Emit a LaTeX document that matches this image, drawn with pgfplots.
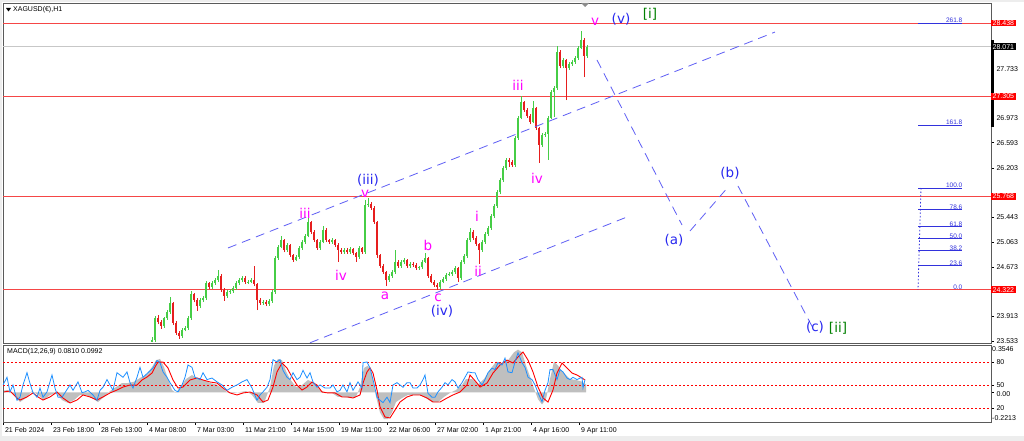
\documentclass[border=0pt]{standalone}
\usepackage{pgfplots}
\pgfplotsset{compat=1.18}
\usepackage{pgfplotstable}
\usepackage{fontspec}
\setmainfont{Liberation Sans}
\newfontfamily\wavefont{DejaVu Sans}
\newcommand\tickfont{\fontsize{7}{8}\selectfont}
\newcommand\fibfont{\fontsize{6.5}{7}\selectfont}
\newcommand\wfont{\wavefont\fontsize{13.5}{14}\selectfont}

\definecolor{lvl}{RGB}{245,70,70}
\definecolor{wave}{RGB}{40,40,240}
\definecolor{proj}{RGB}{95,95,245}
\definecolor{mag}{RGB}{255,0,255}
\definecolor{grn}{RGB}{0,128,0}
\definecolor{fib}{RGB}{50,50,220}
\definecolor{frame}{RGB}{90,90,90}
\definecolor{osc}{RGB}{30,144,255}

% hourly candles, one every 3 px starting at x=152
\pgfplotstableread{
o h l c
23.52 23.59 23.51 23.548
23.548 23.92 23.52 23.888
23.888 23.93 23.79 23.826
23.826 23.85 23.72 23.764
23.764 23.91 23.74 23.888
23.888 24.01 23.86 23.980
23.980 24.21 23.95 24.119
24.119 24.14 23.78 23.811
23.811 23.84 23.63 23.656
23.656 23.68 23.564 23.610
23.610 23.73 23.58 23.703
23.703 23.77 23.68 23.734
23.734 23.92 23.71 23.888
23.888 24.304 23.86 24.258
24.258 24.28 24.13 24.165
24.165 24.19 23.996 24.073
24.073 24.19 24.04 24.165
24.165 24.23 24.14 24.196
24.196 24.46 24.17 24.428
24.428 24.45 24.33 24.366
24.366 24.46 24.34 24.428
24.428 24.50 24.40 24.474
24.474 24.628 24.45 24.536
24.536 24.56 24.29 24.320
24.320 24.35 24.150 24.227
24.227 24.32 24.20 24.289
24.289 24.33 24.26 24.30
24.30 24.38 24.27 24.351
24.351 24.46 24.32 24.428
24.428 24.50 24.40 24.474
24.474 24.54 24.44 24.505
24.505 24.53 24.41 24.444
24.444 24.48 24.41 24.45
24.45 24.50 24.42 24.474
24.474 24.690 24.38 24.412
24.412 24.43 24.011 24.165
24.165 24.19 24.09 24.119
24.119 24.17 24.09 24.135
24.135 24.16 24.07 24.104
24.104 24.18 24.08 24.150
24.150 24.32 24.12 24.289
24.289 24.84 24.26 24.813
24.813 25.01 24.79 24.983
24.983 25.153 24.96 25.091
25.091 25.11 24.90 24.937
24.937 25.04 24.91 25.014
25.014 25.03 24.83 24.860
24.860 24.88 24.752 24.782
24.782 24.86 24.76 24.829
24.829 25.00 24.80 24.968
24.968 25.09 24.94 25.060
25.060 25.18 25.03 25.153
25.153 25.430 25.13 25.369
25.369 25.39 25.18 25.214
25.214 25.24 25.06 25.091
25.091 25.11 24.94 24.968
24.968 25.09 24.94 25.060
25.060 25.307 25.04 25.245
25.245 25.27 25.06 25.091
25.091 25.11 25.03 25.060
25.060 25.12 25.03 25.091
25.091 25.11 24.98 25.014
25.014 25.04 24.752 24.937
24.937 24.96 24.88 24.906
24.906 24.97 24.88 24.937
24.937 24.96 24.88 24.906
24.906 24.98 24.88 24.952
24.952 24.97 24.86 24.890
24.890 24.91 24.752 24.829
24.829 25.00 24.80 24.968
24.968 24.99 24.88 24.906
24.906 25.708 24.88 25.631
25.631 25.739 25.60 25.646
25.646 25.67 25.55 25.585
25.585 25.61 25.34 25.369
25.369 25.39 24.813 24.860
24.860 24.88 24.66 24.690
24.690 24.72 24.57 24.597
24.597 24.62 24.381 24.474
24.474 24.56 24.45 24.536
24.536 24.63 24.51 24.597
24.597 24.937 24.57 24.752
24.752 24.78 24.66 24.690
24.690 24.78 24.66 24.752
24.752 24.81 24.72 24.782
24.782 24.80 24.66 24.690
24.690 24.75 24.66 24.721
24.721 24.75 24.68 24.71
24.71 24.73 24.63 24.659
24.659 24.69 24.63 24.67
24.67 24.78 24.64 24.752
24.752 24.890 24.73 24.813
24.813 24.83 24.51 24.536
24.536 24.56 24.42 24.444
24.444 24.47 24.37 24.397
24.397 24.42 24.320 24.366
24.366 24.47 24.34 24.444
24.444 24.52 24.42 24.490
24.490 24.58 24.46 24.551
24.551 24.60 24.53 24.567
24.567 24.63 24.54 24.597
24.597 24.69 24.57 24.659
24.659 24.68 24.444 24.505
24.505 24.78 24.48 24.752
24.752 24.87 24.72 24.844
24.844 25.12 24.82 25.091
25.091 25.276 25.06 25.214
25.214 25.24 25.09 25.122
25.122 25.15 25.00 25.029
25.029 25.05 24.721 24.937
24.937 25.09 24.91 25.060
25.060 25.21 25.03 25.184
25.184 25.31 25.15 25.276
25.276 25.49 25.25 25.461
25.461 25.65 25.43 25.615
25.615 25.86 25.59 25.831
25.831 26.05 25.80 26.016
26.016 26.23 25.99 26.202
26.202 26.36 26.17 26.325
26.325 26.35 26.217 26.294
26.294 26.32 26.22 26.248
26.248 26.69 26.22 26.664
26.664 27.00 26.64 26.973
26.973 27.312 26.95 27.220
27.220 27.24 27.07 27.096
27.096 27.12 26.98 27.004
27.004 27.03 26.88 26.911
26.911 27.235 26.89 27.127
27.127 27.15 26.79 26.819
26.819 26.84 26.279 26.556
26.556 26.74 26.53 26.711
26.711 26.76 26.68 26.726
26.726 27.00 26.325 26.973
26.973 27.40 26.95 27.374
27.374 27.47 26.988 27.436
27.436 28.083 27.41 27.991
27.991 28.02 27.74 27.775
27.775 27.90 27.74 27.867
27.867 27.89 27.250 27.744
27.744 27.84 27.72 27.806
27.806 27.87 27.78 27.837
27.837 27.93 27.81 27.898
27.898 28.08 27.87 28.053
28.053 28.315 28.03 28.176
28.176 28.20 27.605 27.929
27.929 28.10 27.90 28.068
}\candles

% MACD main line (histogram)
\pgfplotstableread{
x m
0 0.010
8 0.018
14 -0.019
20 -0.072
26 -0.042
32 0.010
38 -0.019
44 -0.057
50 -0.019
56 -0.004
62 -0.057
68 -0.079
74 -0.057
80 -0.019
86 -0.019
92 -0.042
98 -0.072
104 -0.034
110 0.010
116 0.040
122 0.070
128 0.070
134 0.080
140 0.108
146 0.130
152 0.190
156 0.240
160 0.250
164 0.190
168 0.100
172 0.018
176 -0.004
180 0.040
186 0.100
192 0.130
198 0.100
204 0.093
210 0.070
216 0.060
222 0.033
228 -0.004
234 -0.004
240 0.003
246 0.010
252 -0.019
258 -0.079
264 -0.079
270 0.040
274 0.200
278 0.250
282 0.240
286 0.160
290 0.100
296 0.040
302 0.055
308 0.093
314 0.070
320 0.018
326 -0.004
332 -0.004
338 -0.034
344 -0.034
350 -0.042
356 -0.034
360 0.040
364 0.183
368 0.200
372 0.130
376 -0.030
380 -0.150
384 -0.200
388 -0.200
392 -0.150
396 -0.072
402 -0.042
408 -0.019
414 -0.019
420 -0.019
426 -0.042
432 -0.072
438 -0.072
444 -0.034
450 -0.004
456 0.018
462 0.055
466 0.100
472 0.100
478 0.060
484 0.100
490 0.170
496 0.230
502 0.220
508 0.240
514 0.300
518 0.320
522 0.300
526 0.200
530 0.120
534 0.030
538 -0.050
542 -0.090
546 -0.050
550 0.100
554 0.230
558 0.200
562 0.160
566 0.130
570 0.100
576 0.093
582 0.080
586 0.060
}\macdmain

% MACD signal line
\pgfplotstableread{
x s
3 0.003
10 0.010
17 -0.042
20 -0.057
27 -0.034
33 -0.004
38 -0.034
43 -0.057
50 -0.034
57 0.003
63 -0.042
70 -0.079
77 -0.057
83 -0.019
90 -0.034
97 -0.057
103 -0.034
110 -0.004
117 0.018
123 0.040
130 0.055
137 0.055
142 0.093
147 0.115
152 0.145
155 0.190
158 0.227
163 0.227
168 0.183
173 0.093
178 0.033
183 0.040
190 0.093
197 0.108
203 0.093
210 0.078
217 0.070
223 0.033
230 -0.004
237 -0.019
243 -0.004
250 0.003
257 -0.019
263 -0.072
268 -0.057
273 0.040
277 0.153
282 0.220
287 0.183
292 0.115
297 0.055
302 0.018
307 0.040
312 0.078
317 0.055
322 0.003
328 -0.004
335 -0.004
342 -0.034
348 -0.034
353 -0.042
360 -0.019
363 0.070
367 0.153
370 0.183
373 0.145
377 0.018
380 -0.109
385 -0.184
390 -0.191
395 -0.132
400 -0.072
407 -0.034
413 -0.019
420 -0.019
427 -0.042
433 -0.072
440 -0.072
447 -0.042
453 -0.019
460 0.003
467 0.055
470 0.130
477 0.070
480 0.040
487 0.070
493 0.145
500 0.205
507 0.242
513 0.220
518 0.265
523 0.302
528 0.242
533 0.153
538 0.040
543 -0.042
548 -0.072
553 0.018
557 0.145
562 0.220
567 0.183
572 0.145
577 0.130
582 0.108
585 0.093
}\macdsig

% blue oscillator, 0-100 scale
\pgfplotstableread{
x v
3 50
7 60
10 41
13 50
17 30
20 34
23 50
27 66
30 52
33 40
37 34
40 46
43 34
47 41
52 63
55 46
58 34
62 34
65 40
70 50
73 43
78 54
82 40
85 41
88 43
93 37
97 30
100 43
103 47
107 57
110 50
113 43
117 66
120 63
123 60
127 67
130 53
133 46
137 60
140 73
143 60
148 66
153 72
157 82
160 79
163 67
167 60
170 53
175 43
178 41
182 50
185 60
188 76
192 73
195 60
200 57
203 66
207 57
212 59
217 54
222 50
227 43
232 47
237 50
242 54
247 57
252 46
257 30
260 37
263 41
267 47
270 57
273 83
277 80
280 83
283 69
287 60
290 57
293 66
297 57
300 60
303 69
307 59
310 66
313 54
317 47
320 50
325 46
330 46
333 50
337 41
340 43
343 50
347 41
350 53
353 43
358 54
362 46
363 79
367 80
370 72
373 57
377 34
380 30
383 27
387 34
390 27
393 50
397 53
400 50
403 47
407 53
410 53
413 46
417 46
420 50
423 57
425 63
428 39
432 34
435 34
438 41
442 47
445 53
448 50
452 57
455 54
458 46
462 53
465 60
468 67
472 66
475 66
478 57
482 50
485 57
488 66
492 72
495 70
498 79
502 76
505 85
508 67
512 66
515 80
518 92
522 79
525 73
528 60
532 57
535 50
538 40
542 28
545 43
548 53
550 70
553 70
557 57
560 70
563 67
567 59
570 57
573 60
577 57
580 59
582 60
583 46
585 57
}\oscdata

\begin{document}
\begin{tikzpicture}[x=1pt,y=1pt]
% window background
\fill[black!7] (0,0) rectangle (1024,441);
\fill[white] (2,5) rectangle (1024,439);

% ---------------- price panel ----------------
\begin{axis}[
  at={(3pt,98pt)}, anchor=south west, scale only axis,
  width=988pt, height=340pt,
  xmin=3, xmax=991, ymin=23.502, ymax=28.747,
  clip mode=individual,
  axis line style={frame, line width=0.8pt},
  xtick=\empty,
  ytick={23.533,23.913,24.673,25.063,25.443,26.203,26.593,26.973,27.733},
  ytick pos=right, yticklabel pos=right,
  tick align=outside, major tick length=3pt,
  tick style={black, line width=0.5pt},
  yticklabel style={font=\tickfont, xshift=-1pt},
  /pgf/number format/fixed, /pgf/number format/fixed zerofill,
  /pgf/number format/precision=3, /pgf/number format/assume math mode=true,
  colormap={rg}{rgb255=(230,30,30) rgb255=(70,205,70)},
  point meta min=0, point meta max=1,
]
% horizontal levels
\addplot[lvl, line width=1pt] coordinates {(3,28.438) (991,28.438)};
\addplot[lvl, line width=1pt] coordinates {(3,27.305) (991,27.305)};
\addplot[lvl, line width=1pt] coordinates {(3,25.768) (991,25.768)};
\addplot[lvl, line width=1pt] coordinates {(3,24.322) (991,24.322)};
\addplot[black!22, line width=0.8pt] coordinates {(3,28.071) (991,28.071)};

% candles: wicks then bodies
\addplot[quiver={u=0, v=\thisrow{h}-\thisrow{l}, colored}, line width=0.9pt,
  point meta={\thisrow{c}>\thisrow{o}}]
  table[x expr=152+3*\coordindex, y=l] {\candles};
\addplot[quiver={u=0, v=\thisrow{c}-\thisrow{o}, colored}, line width=2.3pt,
  point meta={\thisrow{c}>\thisrow{o}}]
  table[x expr=152+3*\coordindex, y=o] {\candles};

% channel and projected path
\addplot[proj, line width=0.8pt, dash pattern=on 9pt off 6pt] coordinates {(228,24.968) (775,28.299)};
\addplot[proj, line width=0.8pt, dash pattern=on 9pt off 6pt] coordinates {(310,23.505) (628,25.452)};
\addplot[proj, line width=0.8pt, dash pattern=on 9pt off 6pt] coordinates {(597,27.868) (682,25.322)};
\addplot[proj, line width=0.8pt, dash pattern=on 9pt off 6pt] coordinates {(690,25.230) (729,25.924)};
\addplot[proj, line width=0.8pt, dash pattern=on 9pt off 6pt] coordinates {(738,25.924) (815,23.672)};

% fibonacci levels
\addplot[fib, line width=0.9pt] coordinates {(918,28.435) (962,28.435)};
\addplot[fib, line width=0.9pt] coordinates {(918,26.864) (962,26.864)};
\addplot[fib, line width=0.9pt] coordinates {(918,25.893) (962,25.893)};
\addplot[fib, line width=0.9pt] coordinates {(918,25.557) (962,25.557)};
\addplot[fib, line width=0.9pt] coordinates {(918,25.293) (962,25.293)};
\addplot[fib, line width=0.9pt] coordinates {(918,25.108) (962,25.108)};
\addplot[fib, line width=0.9pt] coordinates {(918,24.922) (962,24.922)};
\addplot[fib, line width=0.9pt] coordinates {(918,24.693) (962,24.693)};
\addplot[fib, line width=0.8pt, dash pattern=on 1.5pt off 2pt] coordinates {(921,25.893) (918,24.322)};
\node[fib, anchor=south east, inner sep=0.5pt, font=\fibfont] at (axis cs:963,28.435) {261.8};
\node[fib, anchor=south east, inner sep=0.5pt, font=\fibfont] at (axis cs:963,26.864) {161.8};
\node[fib, anchor=south east, inner sep=0.5pt, font=\fibfont] at (axis cs:963,25.893) {100.0};
\node[fib, anchor=south east, inner sep=0.5pt, font=\fibfont] at (axis cs:963,25.557) {78.6};
\node[fib, anchor=south east, inner sep=0.5pt, font=\fibfont] at (axis cs:963,25.293) {61.8};
\node[fib, anchor=south east, inner sep=0.5pt, font=\fibfont] at (axis cs:963,25.108) {50.0};
\node[fib, anchor=south east, inner sep=0.5pt, font=\fibfont] at (axis cs:963,24.922) {38.2};
\node[fib, anchor=south east, inner sep=0.5pt, font=\fibfont] at (axis cs:963,24.693) {23.6};
\node[fib, anchor=south east, inner sep=0.5pt, font=\fibfont] at (axis cs:963,24.322) {0.0};

% wave labels
\node[mag, font=\wfont] at (axis cs:305,25.508) {iii};
\node[wave, font=\wfont] at (axis cs:368,26.020) {(iii)};
\node[mag, font=\wfont, inner sep=0pt] at (axis cs:365,25.810) {v};
\node[mag, font=\wfont] at (axis cs:341,24.551) {iv};
\node[mag, font=\wfont] at (axis cs:385,24.227) {a};
\node[mag, font=\wfont] at (axis cs:428,25.014) {b};
\node[mag, font=\wfont] at (axis cs:438,24.196) {c};
\node[wave, font=\wfont] at (axis cs:442,23.996) {(iv)};
\node[mag, font=\wfont] at (axis cs:477,25.461) {i};
\node[mag, font=\wfont] at (axis cs:478,24.613) {ii};
\node[mag, font=\wfont] at (axis cs:518,27.482) {iii};
\node[mag, font=\wfont] at (axis cs:537,26.047) {iv};
\node[mag, font=\wfont] at (axis cs:595,28.454) {v};
\node[wave, font=\wfont] at (axis cs:621,28.500) {(v)};
\node[grn, font=\wfont] at (axis cs:650,28.577) {[i]};
\node[wave, font=\wfont] at (axis cs:674,25.091) {(a)};
\node[wave, font=\wfont] at (axis cs:730,26.124) {(b)};
\node[wave, font=\wfont] at (axis cs:815,23.749) {(c)};
\node[grn, font=\wfont] at (axis cs:838,23.734) {[ii]};

% price tags on the scale
\draw[black, line width=2.5pt] (axis cs:992.5,28.176) -- (axis cs:992.5,26.834);
\node[fill=red, text=white, anchor=west, inner xsep=1.5pt, inner ysep=1pt, font=\tickfont] at (axis cs:991,28.438) {28.438};
\node[fill=red, text=white, anchor=west, inner xsep=1.5pt, inner ysep=1pt, font=\tickfont] at (axis cs:991,27.305) {27.305};
\node[fill=red, text=white, anchor=west, inner xsep=1.5pt, inner ysep=1pt, font=\tickfont] at (axis cs:991,25.768) {25.768};
\node[fill=red, text=white, anchor=west, inner xsep=1.5pt, inner ysep=1pt, font=\tickfont] at (axis cs:991,24.322) {24.322};
\node[fill=black, text=white, anchor=west, inner xsep=1.5pt, inner ysep=1pt, font=\tickfont] at (axis cs:991,28.071) {28.071};
\end{axis}

% ---------------- MACD panel ----------------
\begin{axis}[
  at={(3pt,19pt)}, anchor=south west, scale only axis,
  width=988pt, height=77pt,
  xmin=3, xmax=991, ymin=-0.2213, ymax=0.3546,
  clip mode=individual,
  axis line style={frame, line width=0.8pt},
  xtick={3,51,99,147,195,243,291,339,387,435,483,531,579},
  xticklabels={21 Feb 2024,23 Feb 18:00,28 Feb 13:00,4 Mar 08:00,7 Mar 03:00,11 Mar 21:00,14 Mar 15:00,19 Mar 11:00,22 Mar 06:00,27 Mar 02:00,1 Apr 21:00,4 Apr 16:00,9 Apr 11:00},
  xtick pos=bottom, tick align=outside, major tick length=3pt,
  tick style={black, line width=0.5pt},
  xticklabel style={font=\tickfont, anchor=north west, xshift=-1.5pt, yshift=1pt},
  ytick={0}, yticklabels={0.00},
  ytick pos=right, yticklabel pos=right,
  yticklabel style={font=\tickfont, xshift=-1pt, yshift=-2pt},
]
\addplot[fill=black!25, draw=none] table[x=x, y=m] {\macdmain} \closedcycle;
\addplot[red, line width=0.9pt] table[x=x, y=s] {\macdsig};
\node[anchor=north west, inner sep=1pt, font=\tickfont] at (rel axis cs:1,1) {0.3546};
\node[anchor=west, inner sep=1pt, font=\tickfont] at (axis cs:991,-0.195) {-0.2213};
\end{axis}

\begin{axis}[
  at={(3pt,19pt)}, anchor=south west, scale only axis,
  width=988pt, height=77pt,
  xmin=3, xmax=991, ymin=1.7, ymax=102.1,
  axis line style={frame, line width=0.8pt},
  xtick=\empty,
  ytick={20,50,80},
  ytick pos=right, yticklabel pos=right,
  tick align=outside, major tick length=3pt,
  tick style={black, line width=0.5pt},
  yticklabel style={font=\tickfont, xshift=-1pt},
  /pgf/number format/assume math mode=true,
]
\addplot[red, line width=0.7pt, dash pattern=on 2pt off 2pt] coordinates {(3,80) (991,80)};
\addplot[red, line width=0.7pt, dash pattern=on 2pt off 2pt] coordinates {(3,50) (991,50)};
\addplot[red, line width=0.7pt, dash pattern=on 2pt off 2pt] coordinates {(3,20) (991,20)};
\addplot[osc, line width=0.8pt] table[x=x, y=v] {\oscdata};
\end{axis}

% header texts and markers
\fill[black] (6,433) -- (11,433) -- (8.5,429.5) -- cycle;
\node[anchor=west, inner sep=0pt, font=\tickfont] at (13,431) {XAGUSD(€),H1};
\node[anchor=west, inner sep=0pt, font=\tickfont] at (7,89) {MACD(12,26,9) 0.0810 0.0992};
\fill[black!45] (581,438) -- (589,438) -- (585,434) -- cycle;

\pgfresetboundingbox
\useasboundingbox (0,0) rectangle (1024,441);
\end{tikzpicture}
\end{document}
